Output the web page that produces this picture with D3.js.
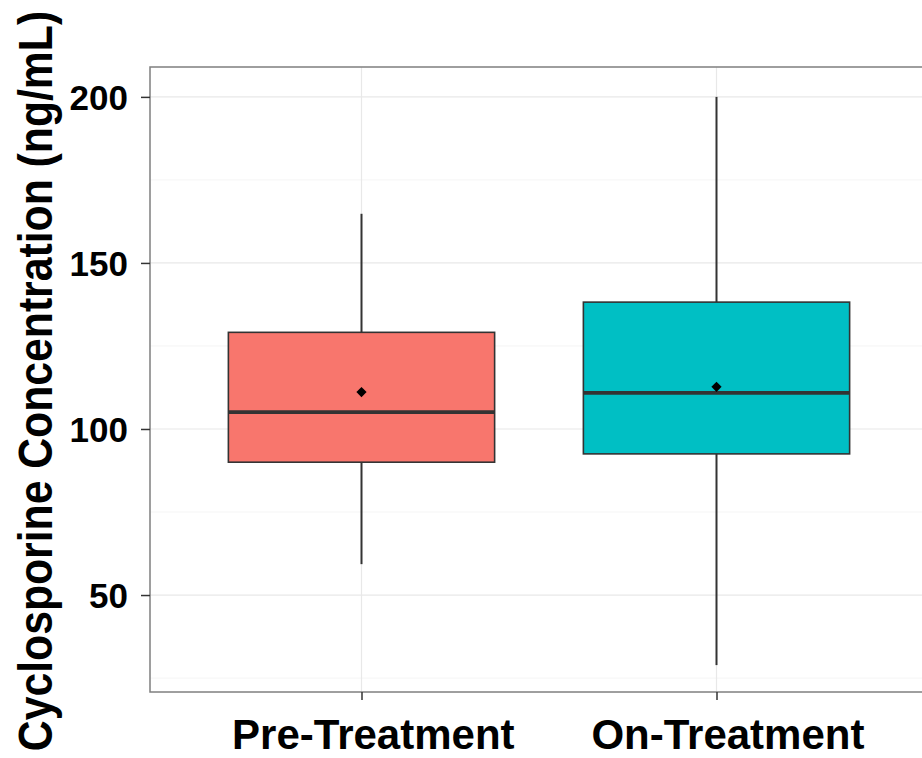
<!DOCTYPE html>
<html lang="en">
<head>
<meta charset="UTF-8">
<title>Cyclosporine boxplot</title>
<script src="https://d3js.org/d3.v7.min.js"></script>
<style>
    body { margin: 0; background: #fff; }
    text { font-family: "Liberation Sans", Arial, sans-serif; font-weight: bold; fill: #000; }
</style>
</head>
<body>
<div id="chart"></div>
<script>
// groups and box statistics
const groups = ["Pre-Treatment", "On-Treatment"];
const lowerWhisker = [59.3, 28.9];
const q1 = [90.0, 92.5];
const median = [105.1, 110.9];
const q3 = [129.1, 138.2];
const upperWhisker = [164.8, 200.0];
const means = [111.1, 112.7];
const fills = ["#F8766D", "#00BFC4"];
const majorTicks = [50, 100, 150, 200];
const minorTicks = [25, 75, 125, 175];
const yTitle = "Cyclosporine Concentration (ng/mL)";

const width = 922, height = 758;
const panel = {left: 150, top: 67, right: 935, bottom: 692};

const svg = d3.select("#chart").append("svg")
    .attr("width", width).attr("height", height);

const x = d3.scalePoint().domain(groups).range([148.5, 929.5]).padding(0.6);
const step = x.step();
const y = d3.scaleLinear().domain([20.8, 209]).range([panel.bottom, panel.top]);

// panel background + grid
svg.append("rect")
    .attr("x", panel.left).attr("y", panel.top)
    .attr("width", panel.right - panel.left).attr("height", panel.bottom - panel.top)
    .attr("fill", "#fff");

svg.selectAll(".minor").data(minorTicks).enter().append("line")
    .attr("x1", panel.left).attr("x2", panel.right)
    .attr("y1", d => y(d)).attr("y2", d => y(d))
    .attr("stroke", "#f5f5f5").attr("stroke-width", 1);

svg.selectAll(".major").data(majorTicks).enter().append("line")
    .attr("x1", panel.left).attr("x2", panel.right)
    .attr("y1", d => y(d)).attr("y2", d => y(d))
    .attr("stroke", "#e8e8e8").attr("stroke-width", 1.2);

svg.selectAll(".vgrid").data(groups).enter().append("line")
    .attr("x1", d => x(d)).attr("x2", d => x(d))
    .attr("y1", panel.top).attr("y2", panel.bottom)
    .attr("stroke", "#e8e8e8").attr("stroke-width", 1.2);

// boxes
const stats = groups.map((g, i) => ({
    g, lo: lowerWhisker[i], q1: q1[i], med: median[i], q3: q3[i], hi: upperWhisker[i], mean: means[i], fill: fills[i]
}));
const boxW = step * 0.75;

const box = svg.selectAll(".box").data(stats).enter().append("g");

box.append("line")
    .attr("x1", d => x(d.g)).attr("x2", d => x(d.g))
    .attr("y1", d => y(d.hi)).attr("y2", d => y(d.q3))
    .attr("stroke", "#333").attr("stroke-width", 2);
box.append("line")
    .attr("x1", d => x(d.g)).attr("x2", d => x(d.g))
    .attr("y1", d => y(d.q1)).attr("y2", d => y(d.lo))
    .attr("stroke", "#333").attr("stroke-width", 2);
box.append("rect")
    .attr("x", d => x(d.g) - boxW / 2).attr("width", boxW)
    .attr("y", d => y(d.q3)).attr("height", d => y(d.q1) - y(d.q3))
    .attr("fill", d => d.fill).attr("stroke", "#333").attr("stroke-width", 1.6);
box.append("line")
    .attr("x1", d => x(d.g) - boxW / 2).attr("x2", d => x(d.g) + boxW / 2)
    .attr("y1", d => y(d.med)).attr("y2", d => y(d.med))
    .attr("stroke", "#333").attr("stroke-width", 3.8);
box.append("path")
    .attr("d", d3.symbol(d3.symbolSquare, 52))
    .attr("transform", d => `translate(${x(d.g)},${y(d.mean)}) rotate(45)`)
    .attr("fill", "#000");

// panel border
svg.append("rect")
    .attr("x", panel.left).attr("y", panel.top)
    .attr("width", panel.right - panel.left).attr("height", panel.bottom - panel.top)
    .attr("fill", "none").attr("stroke", "#7f7f7f").attr("stroke-width", 1.5);

// axes
const yAxis = svg.append("g")
    .attr("transform", `translate(${panel.left},0)`)
    .call(d3.axisLeft(y).tickValues(majorTicks).tickSize(9).tickPadding(13));
yAxis.select(".domain").remove();
yAxis.selectAll(".tick line").attr("stroke", "#333").attr("stroke-width", 1.5);
yAxis.selectAll(".tick text").attr("font-size", 35).attr("fill", "#000")
    .attr("font-family", null).attr("dy", "0.36em");

const xAxis = svg.append("g")
    .attr("transform", `translate(0,${panel.bottom})`)
    .call(d3.axisBottom(x).tickSize(8).tickPadding(0));
xAxis.select(".domain").remove();
xAxis.selectAll(".tick line").attr("stroke", "#333").attr("stroke-width", 1.5);
// labels sit a little right of their ticks, as in the original
xAxis.selectAll(".tick text")
    .attr("font-size", 42).attr("fill", "#000").attr("font-family", null)
    .attr("y", 57).attr("dy", 0)
    .attr("text-anchor", "start")
    .attr("x", function() { return -0.46 * this.getComputedTextLength(); });

// y axis title
svg.append("text")
    .attr("transform", `translate(52,381) rotate(-90) scale(0.89,1)`)
    .attr("text-anchor", "middle")
    .attr("font-size", 48)
    .text(yTitle);
</script>
</body>
</html>
